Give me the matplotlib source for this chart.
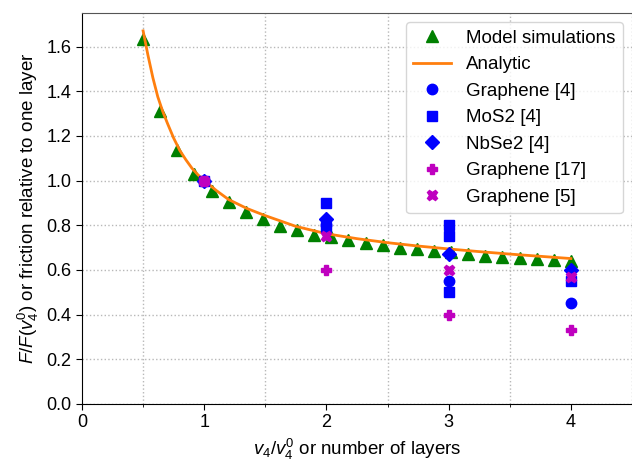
import matplotlib
matplotlib.use("Agg")
import matplotlib.pyplot as plt
from matplotlib.ticker import MultipleLocator

plt.rcParams['font.family'] = ['Liberation Sans', 'DejaVu Sans']
plt.rcParams['mathtext.fontset'] = 'custom'
plt.rcParams['mathtext.rm'] = 'Liberation Sans'
plt.rcParams['mathtext.it'] = 'Liberation Sans:italic'
plt.rcParams['font.size'] = 13.5

# Model simulations
model_x = [0.5, 0.64, 0.78, 0.92, 1.06, 1.2, 1.34, 1.48, 1.62, 1.76, 1.9, 2.04, 2.18,
           2.32, 2.46, 2.6, 2.74, 2.88, 3.02, 3.16, 3.3, 3.44, 3.58, 3.72, 3.86, 4.0]
model_y = [1.635, 1.31, 1.135, 1.028, 0.955, 0.902, 0.860, 0.829, 0.798, 0.777, 0.758,
           0.746, 0.735, 0.722, 0.710, 0.699, 0.692, 0.683, 0.679, 0.670, 0.664, 0.658,
           0.653, 0.649, 0.646, 0.640]

# Analytic curve
analytic_x = [0.5, 0.54, 0.58, 0.62, 0.66, 0.7, 0.75, 0.8, 0.85, 0.9, 0.95, 1.0, 1.1,
              1.2, 1.35, 1.5, 1.75, 2.0, 2.25, 2.5, 2.75, 3.0, 3.25, 3.5, 3.75, 4.0]
analytic_y = [1.67, 1.56, 1.46, 1.375, 1.31, 1.255, 1.19, 1.135, 1.093, 1.055, 1.025, 1.0,
              0.955, 0.915, 0.875, 0.843, 0.795, 0.762, 0.740, 0.722, 0.707, 0.694,
              0.682, 0.671, 0.661, 0.651]

# Experiments
gr4_x = [1, 2, 3, 4]
gr4_y = [1.0, 0.80, 0.55, 0.45]
mos2_x = [1, 2, 2, 3, 3, 3, 4]
mos2_y = [1.0, 0.90, 0.79, 0.80, 0.75, 0.50, 0.55]
nbse2_x = [1, 2, 3, 4]
nbse2_y = [1.0, 0.83, 0.67, 0.60]
gr17_x = [1, 2, 3, 4]
gr17_y = [1.0, 0.60, 0.40, 0.333]
gr5_x = [1, 2, 3, 4]
gr5_y = [1.0, 0.75, 0.60, 0.57]

fig = plt.figure(figsize=(6.32, 4.68), dpi=100)
ax = fig.add_axes([82/632, 64/468, 1 - 82/632, (404 - 13)/468])

ax.plot(model_x, model_y, linestyle='none', marker='^', color='g', markersize=8,
        label='Model simulations')
ax.plot(analytic_x, analytic_y, color='#ff7f0e', linewidth=2, label='Analytic')
ax.plot(gr4_x, gr4_y, linestyle='none', marker='o', color='b', markersize=7.5,
        label='Graphene [4]')
ax.plot(mos2_x, mos2_y, linestyle='none', marker='s', color='b', markersize=7.5,
        label='MoS2 [4]')
ax.plot(nbse2_x, nbse2_y, linestyle='none', marker='D', color='b', markersize=7.5,
        label='NbSe2 [4]')
ax.plot(gr17_x, gr17_y, linestyle='none', marker='P', color='m', markersize=7.5,
        label='Graphene [17]')
ax.plot(gr5_x, gr5_y, linestyle='none', marker='X', color='m', markersize=7.5,
        label='Graphene [5]')

ax.set_xlim(0, 4.5)
ax.set_ylim(0, 1.75)
ax.xaxis.set_major_locator(MultipleLocator(1))
ax.xaxis.set_minor_locator(MultipleLocator(0.5))
ax.yaxis.set_major_locator(MultipleLocator(0.2))
ax.yaxis.set_major_formatter(matplotlib.ticker.FormatStrFormatter('%.1f'))
ax.grid(False)
ax.xaxis.grid(True, which='minor', linestyle=':', color='#b8b8b8', linewidth=1)
ax.yaxis.grid(True, which='major', linestyle=':', color='#b8b8b8', linewidth=1)
ax.tick_params(which='major', direction='out', length=4, labelsize=13)
ax.tick_params(which='minor', direction='out', length=2.5)
ax.spines['right'].set_visible(False)
ax.spines['top'].set_color('#555555')

ax.set_xlabel(r'$v_4/v_4^0$ or number of layers', fontsize=13.5)
ax.set_ylabel(r'$F/F(v_4^0)$ or friction relative to one layer', fontsize=13.5)

ax.legend(loc='upper right', fontsize=13.5, framealpha=0.8)

fig.savefig('out.png', dpi=100)
